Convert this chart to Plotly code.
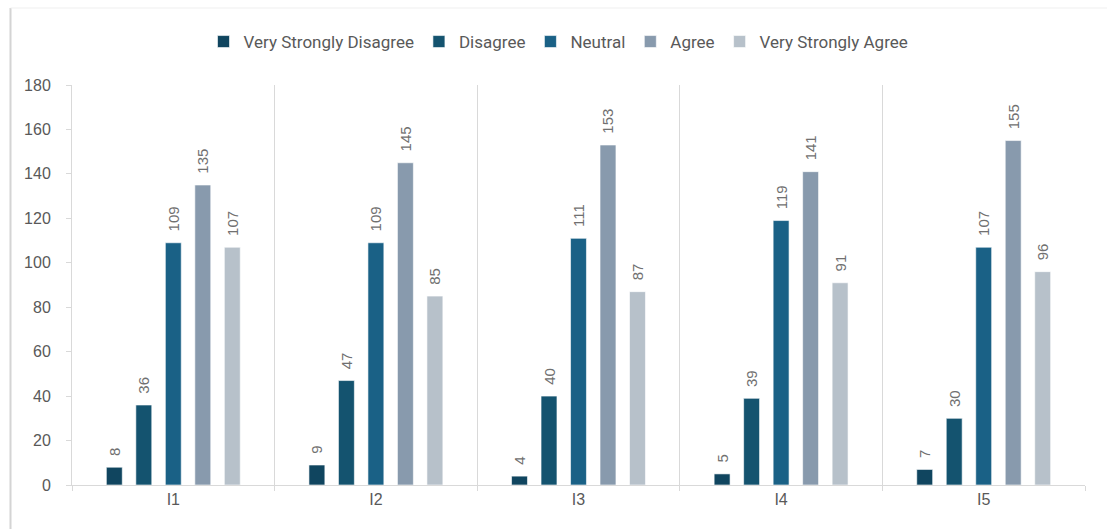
import plotly.graph_objects as go

categories = ["I1", "I2", "I3", "I4", "I5"]
series_names = ["Very Strongly Disagree", "Disagree", "Neutral", "Agree", "Very Strongly Agree"]
very_strongly_disagree = [8, 9, 4, 5, 7]
disagree = [36, 47, 40, 39, 30]
neutral = [109, 109, 111, 119, 107]
agree = [135, 145, 153, 141, 155]
very_strongly_agree = [107, 85, 87, 91, 96]
y_ticks = [0, 20, 40, 60, 80, 100, 120, 140, 160, 180]

series_values = [very_strongly_disagree, disagree, neutral, agree, very_strongly_agree]
colors = ["#10455F", "#14536F", "#1A6186", "#889AAD", "#B7C1CA"]

W, H = 1107, 529
ML, MR, MT, MB = 72, 22, 85, 44
pw, ph = W - ML - MR, H - MT - MB

fig = go.Figure()
for name, vals, col in zip(series_names, series_values, colors):
    fig.add_trace(go.Bar(
        x=categories, y=vals, name=name,
        marker=dict(color=col, line=dict(color="#FFFFFF", width=0.6)),
        text=vals, texttemplate="\u00a0\u00a0%{text}", textposition="outside",
        textangle=-90, cliponaxis=False,
        textfont=dict(size=15, color="#707070", family="Liberation Sans, Arial"),
    ))

fig.update_layout(
    width=W, height=H,
    margin=dict(l=ML, r=MR, t=MT, b=MB),
    paper_bgcolor="white", plot_bgcolor="white",
    barmode="group", bargap=0.272, bargroupgap=0.46,
    showlegend=True,
    legend=dict(orientation="h", x=0.5 - 20 / pw, xanchor="center", y=(485 - 42) / ph, yanchor="middle",
                font=dict(size=17, color="#595959", family="Liberation Sans Narrow, Roboto, Arial"),
                itemwidth=30, traceorder="normal"),
    font=dict(family="Liberation Sans, Arial", color="#595959"),
    uniformtext=dict(mode="show", minsize=15),
)
fig.update_xaxes(
    type="category", tickson="boundaries", showgrid=True, gridcolor="#D9D9D9", gridwidth=1,
    ticks="outside", ticklen=5, tickcolor="#D9D9D9",
    showline=True, linecolor="#D9D9D9", linewidth=1,
    tickfont=dict(size=16, color="#595959"),
)
fig.update_yaxes(
    range=[0, 180], tickvals=y_ticks, showgrid=False, zeroline=False,
    showline=True, linecolor="#D9D9D9", linewidth=1,
    ticks="outside", ticklen=5, tickcolor="#D9D9D9", ticklabelstandoff=12,
    tickfont=dict(size=16, color="#595959"),
)

# chart frame (left and top edges of the outer chart border)
xl = (10.5 - ML) / pw
yt = (485 - 8) / ph
yb = (485 - 529) / ph
fig.add_shape(type="line", xref="paper", yref="paper", x0=xl, x1=xl, y0=yb, y1=yt,
              line=dict(color="#D4D4D4", width=2))
fig.add_shape(type="line", xref="paper", yref="paper", x0=xl, x1=(1107 - ML) / pw, y0=yt, y1=yt,
              line=dict(color="#EFEFEF", width=1))

fig.write_html("out.html")
